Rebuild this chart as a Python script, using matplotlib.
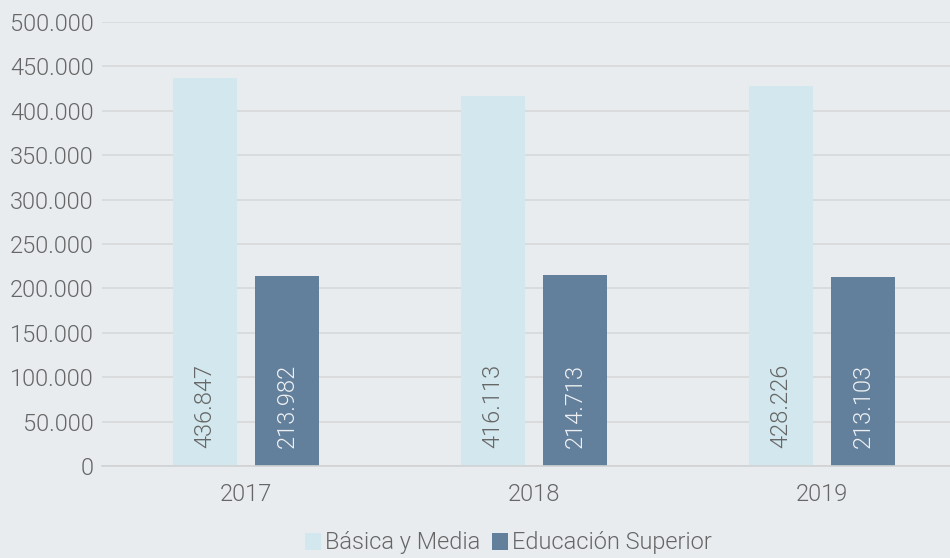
import matplotlib.pyplot as plt
import numpy as np

years = ['2017', '2018', '2019']
basica = [436847, 416113, 428226]
superior = [213982, 214713, 213103]
series_names = ['Básica y Media', 'Educación Superior']

plt.rcParams['font.family'] = ['Roboto', 'DejaVu Sans']
plt.rcParams['font.weight'] = 300

bg = '#e9ecef'
light_c = '#d3e8ee'
dark_c = '#627f9b'
txt = '#666666'
fs = 17

fig = plt.figure(figsize=(9.5, 5.58), dpi=100, facecolor=bg)
ax = fig.add_axes([102 / 950, 1 - 466 / 558, 864 / 950, 444 / 558], facecolor=bg)

x = np.arange(len(years))
w = 0.222
off = 0.142
b1 = ax.bar(x - off, basica, w, color=light_c, label=series_names[0], zorder=2)
b2 = ax.bar(x + off, superior, w, color=dark_c, label=series_names[1], zorder=2)

def fmt(v):
    return f'{v:,.0f}'.replace(',', '.')

for xi, v in zip(x - off, basica):
    ax.text(xi, 20000, fmt(v), rotation=90, ha='center', va='bottom',
            fontsize=fs, color=txt, fontweight=300, zorder=3)
for xi, v in zip(x + off, superior):
    ax.text(xi, 20000, fmt(v), rotation=90, ha='center', va='bottom',
            fontsize=fs, color='#eef0f2', fontweight=300, zorder=3)

ax.set_xlim(-0.5, 2.5)
ax.set_ylim(0, 500000)
ax.set_yticks(np.arange(0, 500001, 50000))
ax.set_yticklabels([fmt(v) for v in np.arange(0, 500001, 50000)], fontweight=300)
ax.set_xticks(x)
ax.set_xticklabels(years, fontweight=300)
ax.grid(axis='y', color='#d6d8da', linewidth=1.2, zorder=0)
ax.tick_params(axis='both', length=0, labelsize=fs, labelcolor=txt)
ax.tick_params(axis='y', pad=6)
ax.tick_params(axis='x', pad=12)
for s in ['top', 'right', 'left']:
    ax.spines[s].set_visible(False)
ax.spines['bottom'].set_color('#d0d2d4')
ax.spines['bottom'].set_linewidth(1.2)

fig.legend(handles=[b1, b2], loc='center', bbox_to_anchor=(508 / 950, 1 - 543 / 558),
           ncol=2, frameon=False, labelcolor=txt,
           prop={'size': fs, 'weight': 300},
           handlelength=0.7, handleheight=0.7, handletextpad=0.15, columnspacing=0.5)

fig.savefig('out.png', dpi=100, facecolor=bg)
